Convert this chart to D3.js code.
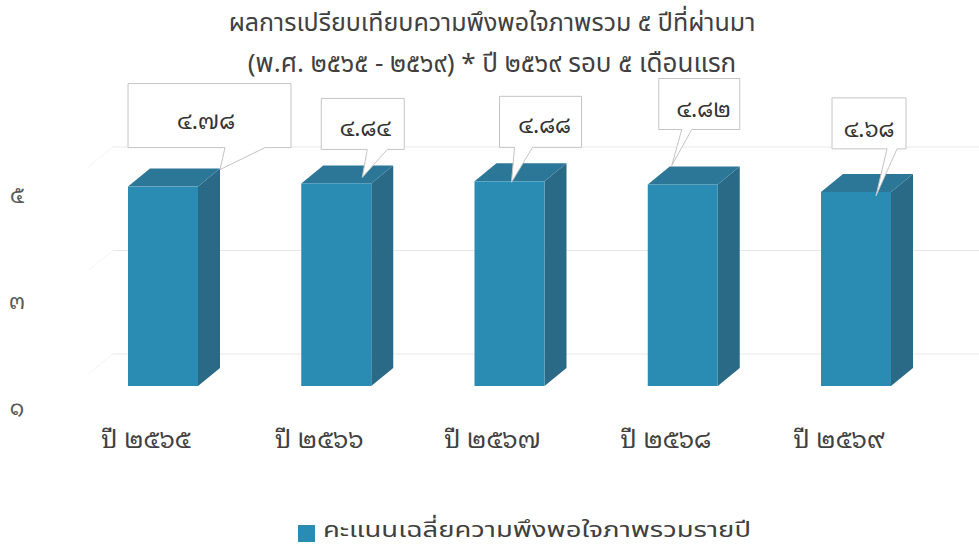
<!DOCTYPE html>
<html>
<head>
<meta charset="utf-8">
<script src="https://cdn.jsdelivr.net/npm/d3@7/dist/d3.min.js"></script>
<style>
  html, body { margin: 0; padding: 0; background: #ffffff; }
  svg { display: block; font-family: "Noto Sans Thai", "Noto Sans Thai UI", "Leelawadee UI", Tahoma, "Noto Sans", sans-serif; }
  .looped { font-family: "Noto Sans Thai Looped", "Noto Serif Thai", "Noto Sans Thai", sans-serif; }
</style>
</head>
<body>
<svg id="chart" width="979" height="549"></svg>
<script>
// ---------- data ----------
const categories = ["ปี ๒๕๖๕", "ปี ๒๕๖๖", "ปี ๒๕๖๗", "ปี ๒๕๖๘", "ปี ๒๕๖๙"];
const values = [4.78, 4.84, 4.88, 4.82, 4.68];
const valueLabels = ["๔.๗๘", "๔.๘๔", "๔.๘๘", "๔.๘๒", "๔.๖๘"];
const yTicks = [1, 3, 5];
const yTickLabels = ["๑", "๓", "๕"];
const titleLines = ["ผลการเปรียบเทียบความพึงพอใจภาพรวม ๕ ปีที่ผ่านมา", "(พ.ศ. ๒๕๖๕ - ๒๕๖๙) * ปี ๒๕๖๙ รอบ ๕ เดือนแรก"];
const legendLabel = "คะแนนเฉลี่ยความพึงพอใจภาพรวมรายปี";

// ---------- layout (callout placement relative to each bar's top) ----------
const calloutLayout = [
  { bx: -35, by: -103, w: 163, h: 64, tipx: 57, tipy: -17, w0: 62, w1: 102, tx: 43, ty: -58 },
  { bx: -15, by: -85,  w: 83,  h: 51, tipx: 26, tipy: -6,  w0: 31, w1: 51,  tx: 29, ty: -47 },
  { bx: -10, by: -85,  w: 82,  h: 51, tipx: 2,  tipy: 1,   w0: 5,  w1: 23,  tx: 35, ty: -48 },
  { bx: -24, by: -106, w: 81,  h: 51, tipx: -11, tipy: -19, w0: -1, w1: 9,  tx: 21, ty: -67 },
  { bx: -24, by: -94,  w: 74,  h: 51, tipx: 20, tipy: 4,   w0: 31, w1: 41,  tx: 13, ty: -55 }
];

const colors = { front: "#2a8bb3", top: "#2c7797", side: "#2a6a86", text: "#404040", axis: "#595959", grid: "#e8e8e8", callout: "#c4c4c4" };
const depth = { dx: 22, dy: -18 };
const barWidth = 70;

const svg = d3.select("#chart");

// scales
const x = d3.scalePoint().domain(categories).range([163, 856]);
const y = d3.scaleLinear().domain([1, 5]).range([386, 175]);          // front plane (bar tops)
const yGrid = d3.scaleLinear().domain([1, 5]).range([354, 147]);      // back wall
const yAxisLbl = d3.scaleLinear().domain([1, 5]).range([407, 195]);   // axis labels

// title
svg.append("g").selectAll("text").data(titleLines).join("text")
  .attr("x", 492).attr("y", (d, i) => 31 + i * 41)
  .attr("text-anchor", "middle")
  .attr("font-size", (d, i) => i === 0 ? 25 : 26)
  .attr("fill", colors.text)
  .text(d => d);

// gridlines on back wall
const grid = svg.append("g");
grid.selectAll("line.h").data(yTicks).join("line").attr("class", "h")
  .attr("x1", 113).attr("x2", 979)
  .attr("y1", d => yGrid(d)).attr("y2", d => yGrid(d))
  .attr("stroke", colors.grid).attr("stroke-width", 1);
grid.selectAll("line.w").data(yTicks).join("line").attr("class", "w")
  .attr("x1", 113).attr("x2", 113 - 25)
  .attr("y1", d => yGrid(d)).attr("y2", d => yGrid(d) + 20)
  .attr("stroke", "#f4f4f4").attr("stroke-width", 1);

// y tick labels
svg.append("g").selectAll("text").data(yTicks).join("text")
  .attr("class", "looped")
  .attr("x", 17).attr("y", d => yAxisLbl(d))
  .attr("dy", "0.35em")
  .attr("text-anchor", "middle")
  .attr("font-size", 22)
  .attr("fill", colors.axis)
  .text((d, i) => yTickLabels[i]);

// bars (3D)
const bars = svg.append("g").selectAll("g").data(values).join("g");
const base = y(1);
bars.append("path") // side
  .attr("fill", colors.side)
  .attr("d", (d, i) => {
    const x1 = x(categories[i]) + barWidth / 2, t = y(d);
    return `M${x1},${t}L${x1 + depth.dx},${t + depth.dy}L${x1 + depth.dx},${base + depth.dy}L${x1},${base}Z`;
  });
bars.append("path") // top
  .attr("fill", colors.top)
  .attr("d", (d, i) => {
    const x0 = x(categories[i]) - barWidth / 2, x1 = x0 + barWidth, t = y(d);
    return `M${x0},${t}L${x0 + depth.dx},${t + depth.dy}L${x1 + depth.dx},${t + depth.dy}L${x1},${t}Z`;
  });
bars.append("rect") // front
  .attr("fill", colors.front)
  .attr("x", (d, i) => x(categories[i]) - barWidth / 2)
  .attr("y", d => y(d))
  .attr("width", barWidth)
  .attr("height", d => base - y(d));

// callouts
const callouts = svg.append("g").selectAll("g").data(values).join("g");
callouts.append("path")
  .attr("fill", "#ffffff")
  .attr("stroke", colors.callout)
  .attr("stroke-width", 1)
  .attr("d", (d, i) => {
    const L = calloutLayout[i], ax = x(categories[i]), ay = y(d);
    const l = ax + L.bx, t = ay + L.by, r = l + L.w, b = t + L.h;
    return `M${l},${t}H${r}V${b}H${ax + L.w1}L${ax + L.tipx},${ay + L.tipy}L${ax + L.w0},${b}H${l}Z`;
  });
callouts.append("text")
  .attr("class", "looped")
  .attr("x", (d, i) => x(categories[i]) + calloutLayout[i].tx)
  .attr("y", (d, i) => y(d) + calloutLayout[i].ty)
  .attr("text-anchor", "middle")
  .attr("font-size", 23)
  .attr("fill", "#333333")
  .text((d, i) => valueLabels[i]);

// x labels
svg.append("g").selectAll("text").data(categories).join("text")
  .attr("class", "looped")
  .attr("x", d => x(d) - 17)
  .attr("y", 448)
  .attr("text-anchor", "middle")
  .attr("font-size", 25)
  .attr("fill", colors.text)
  .text(d => d);

// legend
const lg = svg.append("g");
lg.append("rect").attr("x", 298).attr("y", 525).attr("width", 17).attr("height", 17).attr("fill", colors.front);
lg.append("text").attr("x", 323).attr("y", 537).attr("font-size", 22)
  .attr("textLength", 428).attr("lengthAdjust", "spacingAndGlyphs")
  .attr("fill", colors.text).text(legendLabel);
</script>
</body>
</html>
